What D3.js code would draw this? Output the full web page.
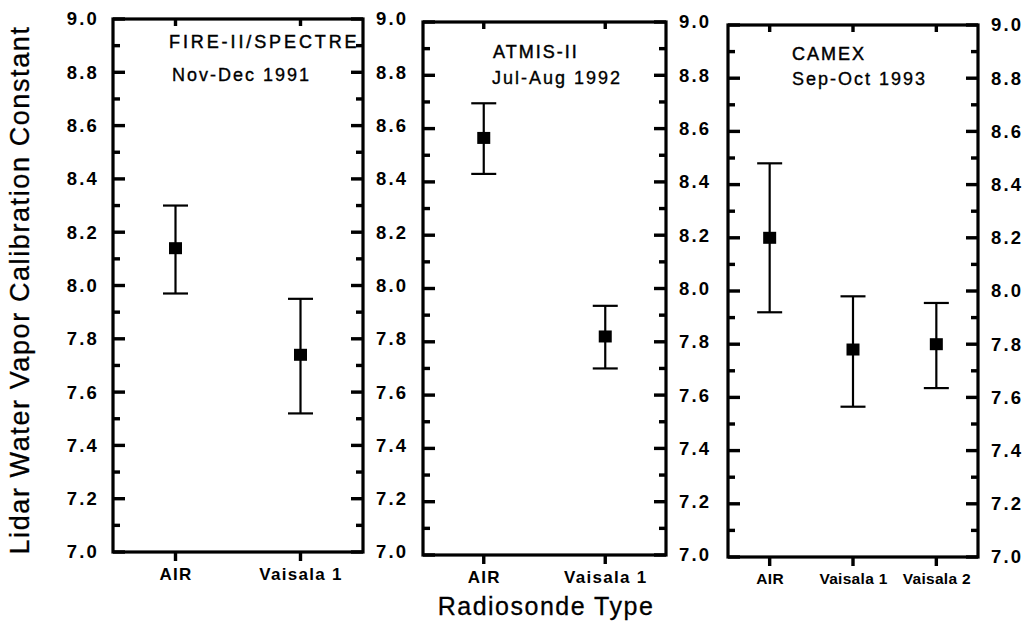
<!DOCTYPE html>
<html>
<head>
<meta charset="utf-8">
<script src="https://cdn.jsdelivr.net/npm/d3@7"></script>
<style>
  html, body { margin: 0; padding: 0; background: #fff; }
  svg { display: block; font-family: "Liberation Sans", Arial, Helvetica, sans-serif; }
</style>
</head>
<body>
<svg id="chart" width="1030" height="638"></svg>
<script>
// ---------------- data ----------------
const campaigns = ["FIRE-II/SPECTRE", "ATMIS-II", "CAMEX"];
const periods = ["Nov-Dec 1991", "Jul-Aug 1992", "Sep-Oct 1993"];

const categoriesFire = ["AIR", "Vaisala 1"];
const meanFire = [8.14, 7.74];
const lowFire  = [7.97, 7.52];
const highFire = [8.30, 7.95];

const categoriesAtmis = ["AIR", "Vaisala 1"];
const meanAtmis = [8.565, 7.82];
const lowAtmis  = [8.43, 7.70];
const highAtmis = [8.695, 7.935];

const categoriesCamex = ["AIR", "Vaisala 1", "Vaisala 2"];
const meanCamex = [8.20, 7.78, 7.80];
const lowCamex  = [7.92, 7.565, 7.635];
const highCamex = [8.48, 7.98, 7.955];

const yDomain = [7.0, 9.0];
const yMajorTicks = [7.0, 7.2, 7.4, 7.6, 7.8, 8.0, 8.2, 8.4, 8.6, 8.8, 9.0];
const yMinorTicks = [7.1, 7.3, 7.5, 7.7, 7.9, 8.1, 8.3, 8.5, 8.7, 8.9];

const yTitle = "Lidar Water Vapor Calibration Constant";
const xTitle = "Radiosonde Type";

// ---------------- layout (positions only) ----------------
const frames = [
  { left: 113, right: 363, top: 19, bottom: 552, titleX: 169, titleY: 48, dateX: 172, dateY: 81, titleSpacing: 2.9, catSize: 17, catSpacing: 1.3, leftLabels: true },
  { left: 423, right: 666, top: 22, bottom: 555, titleX: 493, titleY: 58, dateX: 492, dateY: 84, titleSpacing: 2, catSize: 17, catSpacing: 1.3, leftLabels: false },
  { left: 728, right: 978, top: 25, bottom: 557, titleX: 792, titleY: 60, dateX: 792, dateY: 85, titleSpacing: 2, catSize: 15.5, catSpacing: 0.3, leftLabels: false }
];

const series = [
  { cats: categoriesFire,  mean: meanFire,  low: lowFire,  high: highFire },
  { cats: categoriesAtmis, mean: meanAtmis, low: lowAtmis, high: highAtmis },
  { cats: categoriesCamex, mean: meanCamex, low: lowCamex, high: highCamex }
];

const svg = d3.select("#chart");
const fmt = d3.format(".1f");
const FONT = "'Liberation Sans', Arial, sans-serif";

function styleLabels(sel, size, spacing) {
  sel.attr("fill", "#000")
    .style("font-size", size + "px")
    .style("font-weight", "bold")
    .style("letter-spacing", spacing + "px")
    .style("font-family", FONT);
}

series.forEach((s, i) => {
  const f = frames[i];
  const y = d3.scaleLinear().domain(yDomain).range([f.bottom, f.top]);
  const x = d3.scalePoint().domain(s.cats).range([f.left, f.right]).padding(0.5);

  const g = svg.append("g");

  // tick labels via d3 axes
  if (f.leftLabels) {
    const la = g.append("g").attr("transform", `translate(${f.left},0)`)
      .call(d3.axisLeft(y).tickValues(yMajorTicks).tickSize(0).tickPadding(14).tickFormat(fmt));
    la.select(".domain").remove();
    la.selectAll(".tick line").remove();
    styleLabels(la.selectAll(".tick text"), 18.5, 2.2);
  }
  const ra = g.append("g").attr("transform", `translate(${f.right},0)`)
    .call(d3.axisRight(y).tickValues(yMajorTicks).tickSize(0).tickPadding(13).tickFormat(fmt));
  ra.select(".domain").remove();
  ra.selectAll(".tick line").remove();
  styleLabels(ra.selectAll(".tick text"), 18.5, 2.2);

  const ba = g.append("g").attr("transform", `translate(0,${f.bottom})`)
    .call(d3.axisBottom(x).tickSize(0).tickPadding(16));
  ba.select(".domain").remove();
  ba.selectAll(".tick line").remove();
  styleLabels(ba.selectAll(".tick text"), f.catSize, f.catSpacing);

  // frame
  g.append("rect")
    .attr("x", f.left).attr("y", f.top)
    .attr("width", f.right - f.left).attr("height", f.bottom - f.top)
    .attr("fill", "none").attr("stroke", "#000").attr("stroke-width", 3.2);

  // tick marks (inward on left/right/top, outward on bottom)
  const yTickRows = yMajorTicks.map(v => ({ v, len: 12 })).concat(yMinorTicks.map(v => ({ v, len: 7 })));
  const tk = g.append("g").attr("fill", "#000");
  tk.selectAll("rect.l").data(yTickRows).join("rect").attr("class", "l")
    .attr("x", f.left).attr("width", d => d.len)
    .attr("y", d => y(d.v) - 1.7).attr("height", 3.4);
  tk.selectAll("rect.r").data(yTickRows).join("rect").attr("class", "r")
    .attr("x", d => f.right - d.len).attr("width", d => d.len)
    .attr("y", d => y(d.v) - 1.7).attr("height", 3.4);
  tk.selectAll("rect.t").data(s.cats).join("rect").attr("class", "t")
    .attr("x", d => x(d) - 1.7).attr("width", 3.4)
    .attr("y", f.top).attr("height", 7);
  tk.selectAll("rect.b").data(s.cats).join("rect").attr("class", "b")
    .attr("x", d => x(d) - 1.7).attr("width", 3.4)
    .attr("y", f.bottom).attr("height", 9);

  // error bars
  const idx = d3.range(s.cats.length);
  const eb = g.append("g").attr("stroke", "#000").attr("stroke-width", 2.2);
  eb.selectAll("line.v").data(idx).join("line").attr("class", "v")
    .attr("x1", d => x(s.cats[d])).attr("x2", d => x(s.cats[d]))
    .attr("y1", d => y(s.low[d])).attr("y2", d => y(s.high[d]));
  eb.selectAll("line.hi").data(idx).join("line").attr("class", "hi")
    .attr("x1", d => x(s.cats[d]) - 12.5).attr("x2", d => x(s.cats[d]) + 12.5)
    .attr("y1", d => y(s.high[d])).attr("y2", d => y(s.high[d]));
  eb.selectAll("line.lo").data(idx).join("line").attr("class", "lo")
    .attr("x1", d => x(s.cats[d]) - 12.5).attr("x2", d => x(s.cats[d]) + 12.5)
    .attr("y1", d => y(s.low[d])).attr("y2", d => y(s.low[d]));

  // markers
  g.selectAll("rect.m").data(idx).join("rect").attr("class", "m")
    .attr("x", d => x(s.cats[d]) - 6.5).attr("y", d => y(s.mean[d]) - 6)
    .attr("width", 13).attr("height", 12).attr("fill", "#000");

  // panel labels
  g.append("text").attr("x", f.titleX).attr("y", f.titleY)
    .style("font-size", "18px").style("letter-spacing", f.titleSpacing + "px")
    .attr("fill", "#000").attr("stroke", "#000").attr("stroke-width", 0.45)
    .text(campaigns[i]);
  g.append("text").attr("x", f.dateX).attr("y", f.dateY)
    .style("font-size", "18px").style("letter-spacing", "2px")
    .attr("fill", "#000").attr("stroke", "#000").attr("stroke-width", 0.35)
    .text(periods[i]);
});

// axis titles
svg.append("text")
  .attr("transform", "translate(29,290) rotate(-90)")
  .attr("text-anchor", "middle")
  .style("font-size", "27px").style("letter-spacing", "1.6px")
  .attr("fill", "#000").attr("stroke", "#000").attr("stroke-width", 0.3)
  .text(yTitle);

svg.append("text")
  .attr("x", 546).attr("y", 615)
  .attr("text-anchor", "middle")
  .style("font-size", "25px").style("letter-spacing", "1.5px")
  .attr("fill", "#000").attr("stroke", "#000").attr("stroke-width", 0.3)
  .text(xTitle);
</script>
</body>
</html>
